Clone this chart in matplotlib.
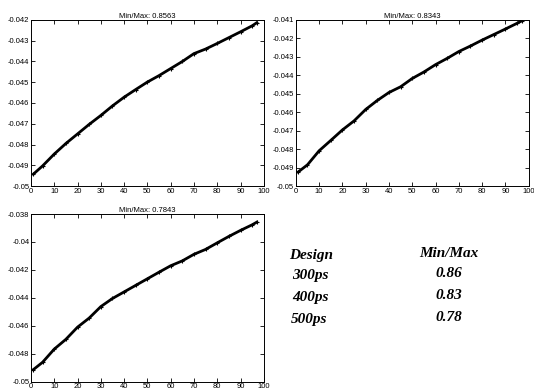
import matplotlib
matplotlib.use("Agg")
from matplotlib import pyplot as plt
from matplotlib.ticker import FuncFormatter
import numpy as np

plt.rcParams['font.family'] = ['Liberation Sans', 'DejaVu Sans']

# sample positions (x) and read-off values for the three designs
x_pts = [1, 5, 10, 15, 20, 25, 30, 35, 40, 45, 50, 55, 60, 65, 70, 75, 80, 85, 90, 95, 97]

y_300 = [-0.04943, -0.04903, -0.04846, -0.04795, -0.04749, -0.04703, -0.04660, -0.04614,
         -0.04572, -0.04535, -0.04499, -0.04468, -0.04434, -0.04400, -0.04362, -0.04340,
         -0.04313, -0.04285, -0.04257, -0.04228, -0.04213]
y_400 = [-0.04924, -0.04885, -0.04809, -0.04753, -0.04696, -0.04647, -0.04585, -0.04536,
         -0.04493, -0.04462, -0.04417, -0.04382, -0.04342, -0.04308, -0.04271, -0.04241,
         -0.04209, -0.04179, -0.04149, -0.04118, -0.04105]
y_500 = [-0.04913, -0.04860, -0.04766, -0.04696, -0.04609, -0.04544, -0.04462, -0.04404,
         -0.04357, -0.04310, -0.04263, -0.04216, -0.04170, -0.04135, -0.04088, -0.04053,
         -0.04006, -0.03960, -0.03917, -0.03877, -0.03858]

titles = ['Min/Max: 0.8563', 'Min/Max: 0.8343', 'Min/Max: 0.7843']
ylims = [(-0.05, -0.042), (-0.05, -0.041), (-0.05, -0.038)]
ysteps = [0.001, 0.001, 0.002]

designs = ['Design', '300ps', '400ps', '500ps']
ratios = ['Min/Max', '0.86', '0.83', '0.78']

fig = plt.figure(figsize=(5.34, 3.92), dpi=100)
positions = [[0.058, 0.5255, 0.436, 0.4235],
             [0.554, 0.5255, 0.436, 0.4235],
             [0.058, 0.026, 0.436, 0.428]]
series = [y_300, y_400, y_500]

fmt = FuncFormatter(lambda v, p: ('%g' % round(v, 4)).replace('\u2212', '-'))

for pos, ys, t, yl, st in zip(positions, series, titles, ylims, ysteps):
    ax = fig.add_axes(pos)
    ax.plot(x_pts, ys, color='black', lw=2.0, marker='+', ms=3, mew=0.8)
    ax.set_xlim(0, 100)
    ax.set_ylim(*yl)
    ax.set_xticks(np.arange(0, 101, 10))
    ax.set_yticks(np.arange(yl[0], yl[1] + st / 2, st))
    ax.yaxis.set_major_formatter(fmt)
    ax.tick_params(direction='in', top=True, right=True, labelsize=5.5,
                   length=3, width=0.6, pad=1.2)
    for s in ax.spines.values():
        s.set_linewidth(0.7)
    ax.set_title(t, fontsize=5.5, pad=1.5)

row_y = [256, 276, 298, 320]
name_x = [289, 292, 292, 291]
for i in range(4):
    fig.text(name_x[i] / 534, 1 - row_y[i] / 392, designs[i], family='Liberation Serif',
             style='italic', weight='bold', fontsize=11, va='center', ha='left')
    fig.text(449 / 534, 1 - (row_y[i] - 2.5) / 392, ratios[i], family='Liberation Serif',
             style='italic', weight='bold', fontsize=11, va='center', ha='center')

fig.savefig('out.png', dpi=100)
